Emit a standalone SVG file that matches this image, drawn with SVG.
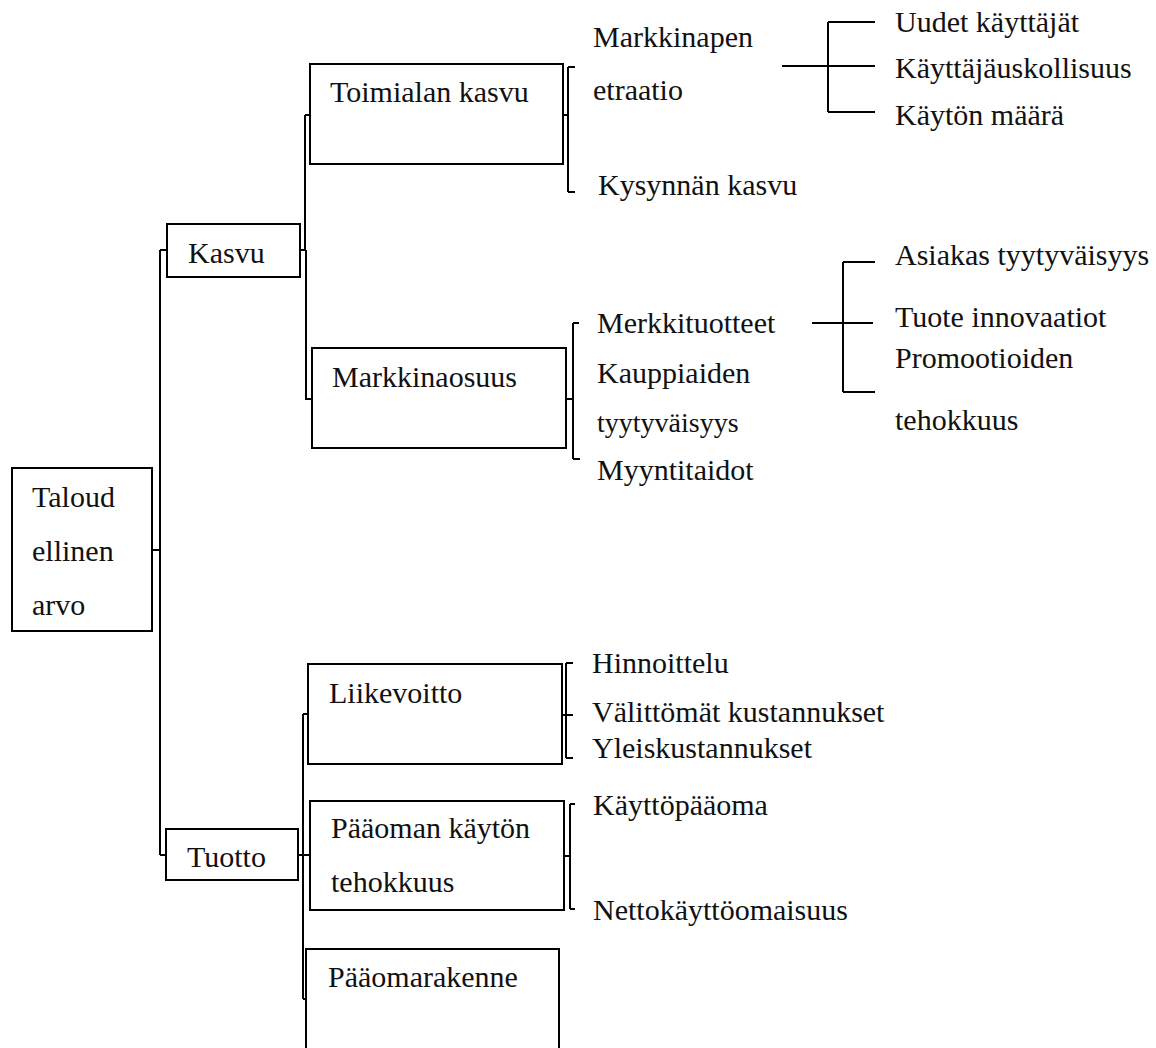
<svg xmlns="http://www.w3.org/2000/svg" width="1156" height="1048" viewBox="0 0 1156 1048">
<style>
.box{fill:#fff;stroke:#000;stroke-width:2}
.ln{fill:none;stroke:#000;stroke-width:2}
text{font-family:"Liberation Serif","Times New Roman",serif;font-size:30px;fill:#111}
.sm{font-size:28px}
</style>
<rect width="1156" height="1048" fill="#fff"/>
<g id="connectors">
<path class="ln" d="M152,550H160M160,250V855M160,250H167M160,855H166"/>
<path class="ln" d="M300,250H305M305,115V250M305,115H310M306,250V399H312"/>
<path class="ln" d="M563,115H568M568,67V192M568,67H575M568,192H575"/>
<path class="ln" d="M782,66H875M828,22V112M828,22H875M828,112H875"/>
<path class="ln" d="M566,399H573M573,323V459M573,323H579M573,459H580"/>
<path class="ln" d="M812,323H873M843,262V392M843,262H875M843,392H875"/>
<path class="ln" d="M298,855H303M303,714V999M303,714H308M303,855H310M303,999H306"/>
<path class="ln" d="M562,715H573M566,663V758M566,663H573M566,758H573"/>
<path class="ln" d="M564,856H570M570,804V909M570,804H575M570,909H575"/>
</g>
<g id="n-taloudellinen"><rect class="box" x="12" y="468" width="140" height="163"/><text x="32" y="507">Taloud</text><text x="32" y="561">ellinen</text><text x="32" y="615">arvo</text></g>
<g id="n-kasvu"><rect class="box" x="167" y="224" width="133" height="53"/><text x="188" y="263">Kasvu</text></g>
<g id="n-tuotto"><rect class="box" x="166" y="829" width="132" height="51"/><text x="187" y="867">Tuotto</text></g>
<g id="n-toimialan"><rect class="box" x="310" y="64" width="253" height="100"/><text x="330" y="102">Toimialan kasvu</text></g>
<g id="n-markkinaosuus"><rect class="box" x="312" y="348" width="254" height="100"/><text x="332" y="387">Markkinaosuus</text></g>
<g id="n-liikevoitto"><rect class="box" x="308" y="664" width="254" height="100"/><text x="329" y="703">Liikevoitto</text></g>
<g id="n-paaoman"><rect class="box" x="310" y="801" width="254" height="109"/><text x="331" y="838">Pääoman käytön</text><text x="331" y="892">tehokkuus</text></g>
<g id="n-paaomarakenne"><rect class="box" x="306" y="949" width="253" height="100"/><text x="328" y="987">Pääomarakenne</text></g>
<g id="n-markkinapenetraatio"><text x="593" y="47">Markkinapen</text><text x="593" y="100">etraatio</text></g>
<g id="n-kysynnan"><text x="598" y="195">Kysynnän kasvu</text></g>
<g id="n-uudet"><text x="895" y="32">Uudet käyttäjät</text></g>
<g id="n-kayttajauskollisuus"><text x="895" y="78">Käyttäjäuskollisuus</text></g>
<g id="n-kayton"><text x="895" y="125">Käytön määrä</text></g>
<g id="n-merkkituotteet"><text x="597" y="333">Merkkituotteet</text></g>
<g id="n-kauppiaiden"><text x="597" y="383">Kauppiaiden</text><text class="sm" x="597" y="432">tyytyväisyys</text></g>
<g id="n-myyntitaidot"><text x="597" y="480">Myyntitaidot</text></g>
<g id="n-asiakas"><text x="895" y="265">Asiakas tyytyväisyys</text></g>
<g id="n-tuote"><text x="895" y="327">Tuote innovaatiot</text></g>
<g id="n-promootioiden"><text x="895" y="368">Promootioiden</text><text x="895" y="430">tehokkuus</text></g>
<g id="n-hinnoittelu"><text x="592" y="673">Hinnoittelu</text></g>
<g id="n-valittomat"><text x="592" y="722">Välittömät kustannukset</text></g>
<g id="n-yleis"><text x="592" y="758">Yleiskustannukset</text></g>
<g id="n-kayttopaaoma"><text x="593" y="815">Käyttöpääoma</text></g>
<g id="n-netto"><text x="593" y="920">Nettokäyttöomaisuus</text></g>
</svg>
